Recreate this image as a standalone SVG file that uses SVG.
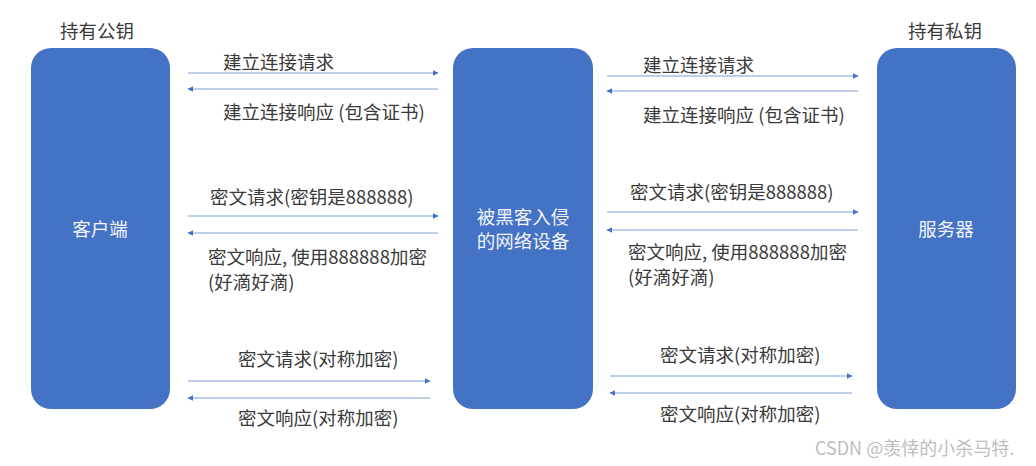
<svg xmlns="http://www.w3.org/2000/svg" width="1036" height="466" viewBox="0 0 1036 466">
<style>
.box{fill:#4472C4;}
.btxt{font-family:"Noto Sans CJK SC","Noto Sans",sans-serif;font-size:18.5px;fill:#F2F5FB;text-anchor:middle;}
.lbl{font-family:"Noto Sans CJK SC","Noto Sans",sans-serif;font-size:18.5px;fill:#3A3A3A;}
.hdr{font-family:"Noto Sans CJK SC","Noto Sans",sans-serif;font-size:18.5px;fill:#3A3A3A;}
.ln{stroke:#7F9FD6;stroke-width:1.2;fill:none;marker-end:url(#ah);}
.wm{font-family:"Noto Sans CJK SC","Noto Sans",sans-serif;font-size:18px;fill:#BDBDBD;}
</style>
<defs>
<marker id="ah" viewBox="0 0 10 10" refX="9" refY="5" markerWidth="6" markerHeight="6" orient="auto" markerUnits="userSpaceOnUse">
<path d="M0,0 L10,5 L0,10 z" fill="#4472C4"/>
</marker>
</defs>
<rect width="1036" height="466" fill="#FFFFFF"/>
<text class="hdr" x="60" y="38">持有公钥</text>
<text class="hdr" x="908" y="38">持有私钥</text>
<g id="client">
<rect class="box" x="31" y="48" width="139" height="361" rx="20" ry="20"/>
<text class="btxt" x="100" y="236">客户端</text>
</g>
<g id="hacked">
<rect class="box" x="453" y="48" width="140" height="361" rx="20" ry="20"/>
<text class="btxt" x="523" y="224"><tspan x="523">被黑客入侵</tspan><tspan x="523" dy="24">的网络设备</tspan></text>
</g>
<g id="server">
<rect class="box" x="877" y="48" width="139" height="361" rx="20" ry="20"/>
<text class="btxt" x="946" y="236">服务器</text>
</g>
<g id="connectors">
<line class="ln" x1="188" y1="73" x2="438" y2="73"/>
<line class="ln" x1="438" y1="89" x2="188" y2="89"/>
<line class="ln" x1="607" y1="76" x2="858" y2="76"/>
<line class="ln" x1="858" y1="91" x2="607" y2="91"/>
<line class="ln" x1="188" y1="216" x2="438" y2="216"/>
<line class="ln" x1="438" y1="233" x2="188" y2="233"/>
<line class="ln" x1="607" y1="212" x2="858" y2="212"/>
<line class="ln" x1="858" y1="230" x2="607" y2="230"/>
<line class="ln" x1="188" y1="381" x2="430" y2="381"/>
<line class="ln" x1="430" y1="398" x2="188" y2="398"/>
<line class="ln" x1="610" y1="376" x2="852" y2="376"/>
<line class="ln" x1="852" y1="393" x2="610" y2="393"/>
</g>
<g id="labels">
<text class="lbl" x="223" y="69">建立连接请求</text>
<text class="lbl" x="223" y="119">建立连接响应 (包含证书)</text>
<text class="lbl" x="643" y="72">建立连接请求</text>
<text class="lbl" x="643" y="122">建立连接响应 (包含证书)</text>
<text class="lbl" x="210" y="204">密文请求(密钥是888888)</text>
<text class="lbl" x="208" y="264"><tspan x="208">密文响应, 使用888888加密</tspan><tspan x="208" dy="25">(好滴好滴)</tspan></text>
<text class="lbl" x="630" y="199">密文请求(密钥是888888)</text>
<text class="lbl" x="628" y="259"><tspan x="628">密文响应, 使用888888加密</tspan><tspan x="628" dy="25">(好滴好滴)</tspan></text>
<text class="lbl" x="238" y="366">密文请求(对称加密)</text>
<text class="lbl" x="238" y="425">密文响应(对称加密)</text>
<text class="lbl" x="660" y="362">密文请求(对称加密)</text>
<text class="lbl" x="660" y="421">密文响应(对称加密)</text>
</g>
<text class="wm" x="815" y="455">CSDN @羡悻的小杀马特.</text>
</svg>
